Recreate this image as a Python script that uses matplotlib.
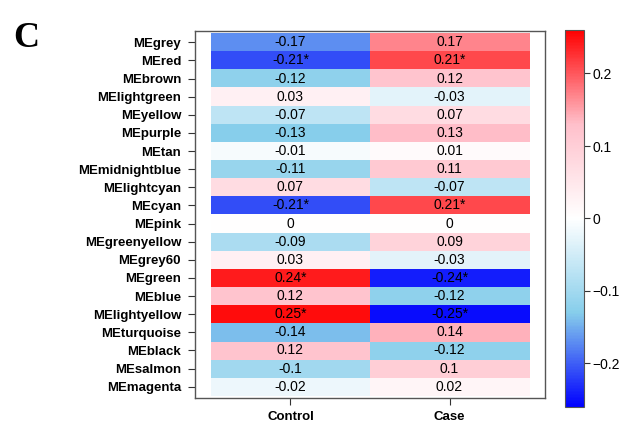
import numpy as np
import matplotlib
matplotlib.use("Agg")
import matplotlib.pyplot as plt
from matplotlib.colors import LinearSegmentedColormap, Normalize

# module eigengenes (rows) and traits (columns)
modules = ["MEgrey", "MEred", "MEbrown", "MElightgreen", "MEyellow", "MEpurple",
           "MEtan", "MEmidnightblue", "MElightcyan", "MEcyan", "MEpink",
           "MEgreenyellow", "MEgrey60", "MEgreen", "MEblue", "MElightyellow",
           "MEturquoise", "MEblack", "MEsalmon", "MEmagenta"]
traits = ["Control", "Case"]

control = [-0.17, -0.21, -0.12, 0.03, -0.07, -0.13, -0.01, -0.11, 0.07, -0.21,
           0, -0.09, 0.03, 0.24, 0.12, 0.25, -0.14, 0.12, -0.1, -0.02]
case = [0.17, 0.21, 0.12, -0.03, 0.07, 0.13, 0.01, 0.11, -0.07, 0.21,
        0, 0.09, -0.03, -0.24, -0.12, -0.25, 0.14, -0.12, 0.1, 0.02]
signif = [False, True, False, False, False, False, False, False, False, True,
          False, False, False, True, False, True, False, False, False, False]

plt.rcParams['font.family'] = ['Liberation Sans', 'DejaVu Sans']

vals = np.array([control, case]).T
cmap = LinearSegmentedColormap.from_list("bwr2", ["blue", "skyblue", "white", "pink", "red"])
norm = Normalize(vmin=-0.26, vmax=0.26)

fig = plt.figure(figsize=(6.22, 4.23), dpi=100)
W, H = 622, 423
ax = fig.add_axes([195 / W, 1 - 398 / H, 350 / W, 367 / H])
ax.imshow(vals, cmap=cmap, norm=norm, aspect='auto', interpolation='nearest')
ax.set_xlim(-0.6, 1.6)
ax.set_ylim(len(modules) - 0.38, -0.62)

for i in range(len(modules)):
    for j in range(len(traits)):
        v = vals[i, j]
        txt = "0" if v == 0 else ("%g" % v)
        if signif[i]:
            txt += "*"
        ax.text(j, i, txt, ha='center', va='center', fontsize=10, color='black')

ax.set_yticks(range(len(modules)))
ax.set_yticklabels(modules, fontsize=9.5, fontweight='bold')
ax.set_xticks(range(len(traits)))
ax.set_xticklabels(traits, fontsize=9.5, fontweight='bold')
ax.tick_params(axis='both', length=5, width=0.8, color='#333333', pad=5)
ax.tick_params(axis='x', pad=4)
for s in ax.spines.values():
    s.set_color('#555555')
    s.set_linewidth(1)

# colour bar
cax = fig.add_axes([565 / W, 1 - 407 / H, 19 / W, 377 / H])
cb = fig.colorbar(plt.cm.ScalarMappable(norm=norm, cmap=cmap), cax=cax)
cb.set_ticks([-0.2, -0.1, 0, 0.1, 0.2])
cb.set_ticklabels(["\u22120.2", "\u22120.1", "0", "0.1", "0.2"])
cax.tick_params(labelsize=10, length=4, width=0.8, color='#333333', pad=2)
cb.outline.set_edgecolor('#555555')

fig.text(13 / W, 1 - 47 / H, "C", fontsize=26, fontweight='bold',
         family='Liberation Serif')

fig.savefig("out.png", dpi=100)
